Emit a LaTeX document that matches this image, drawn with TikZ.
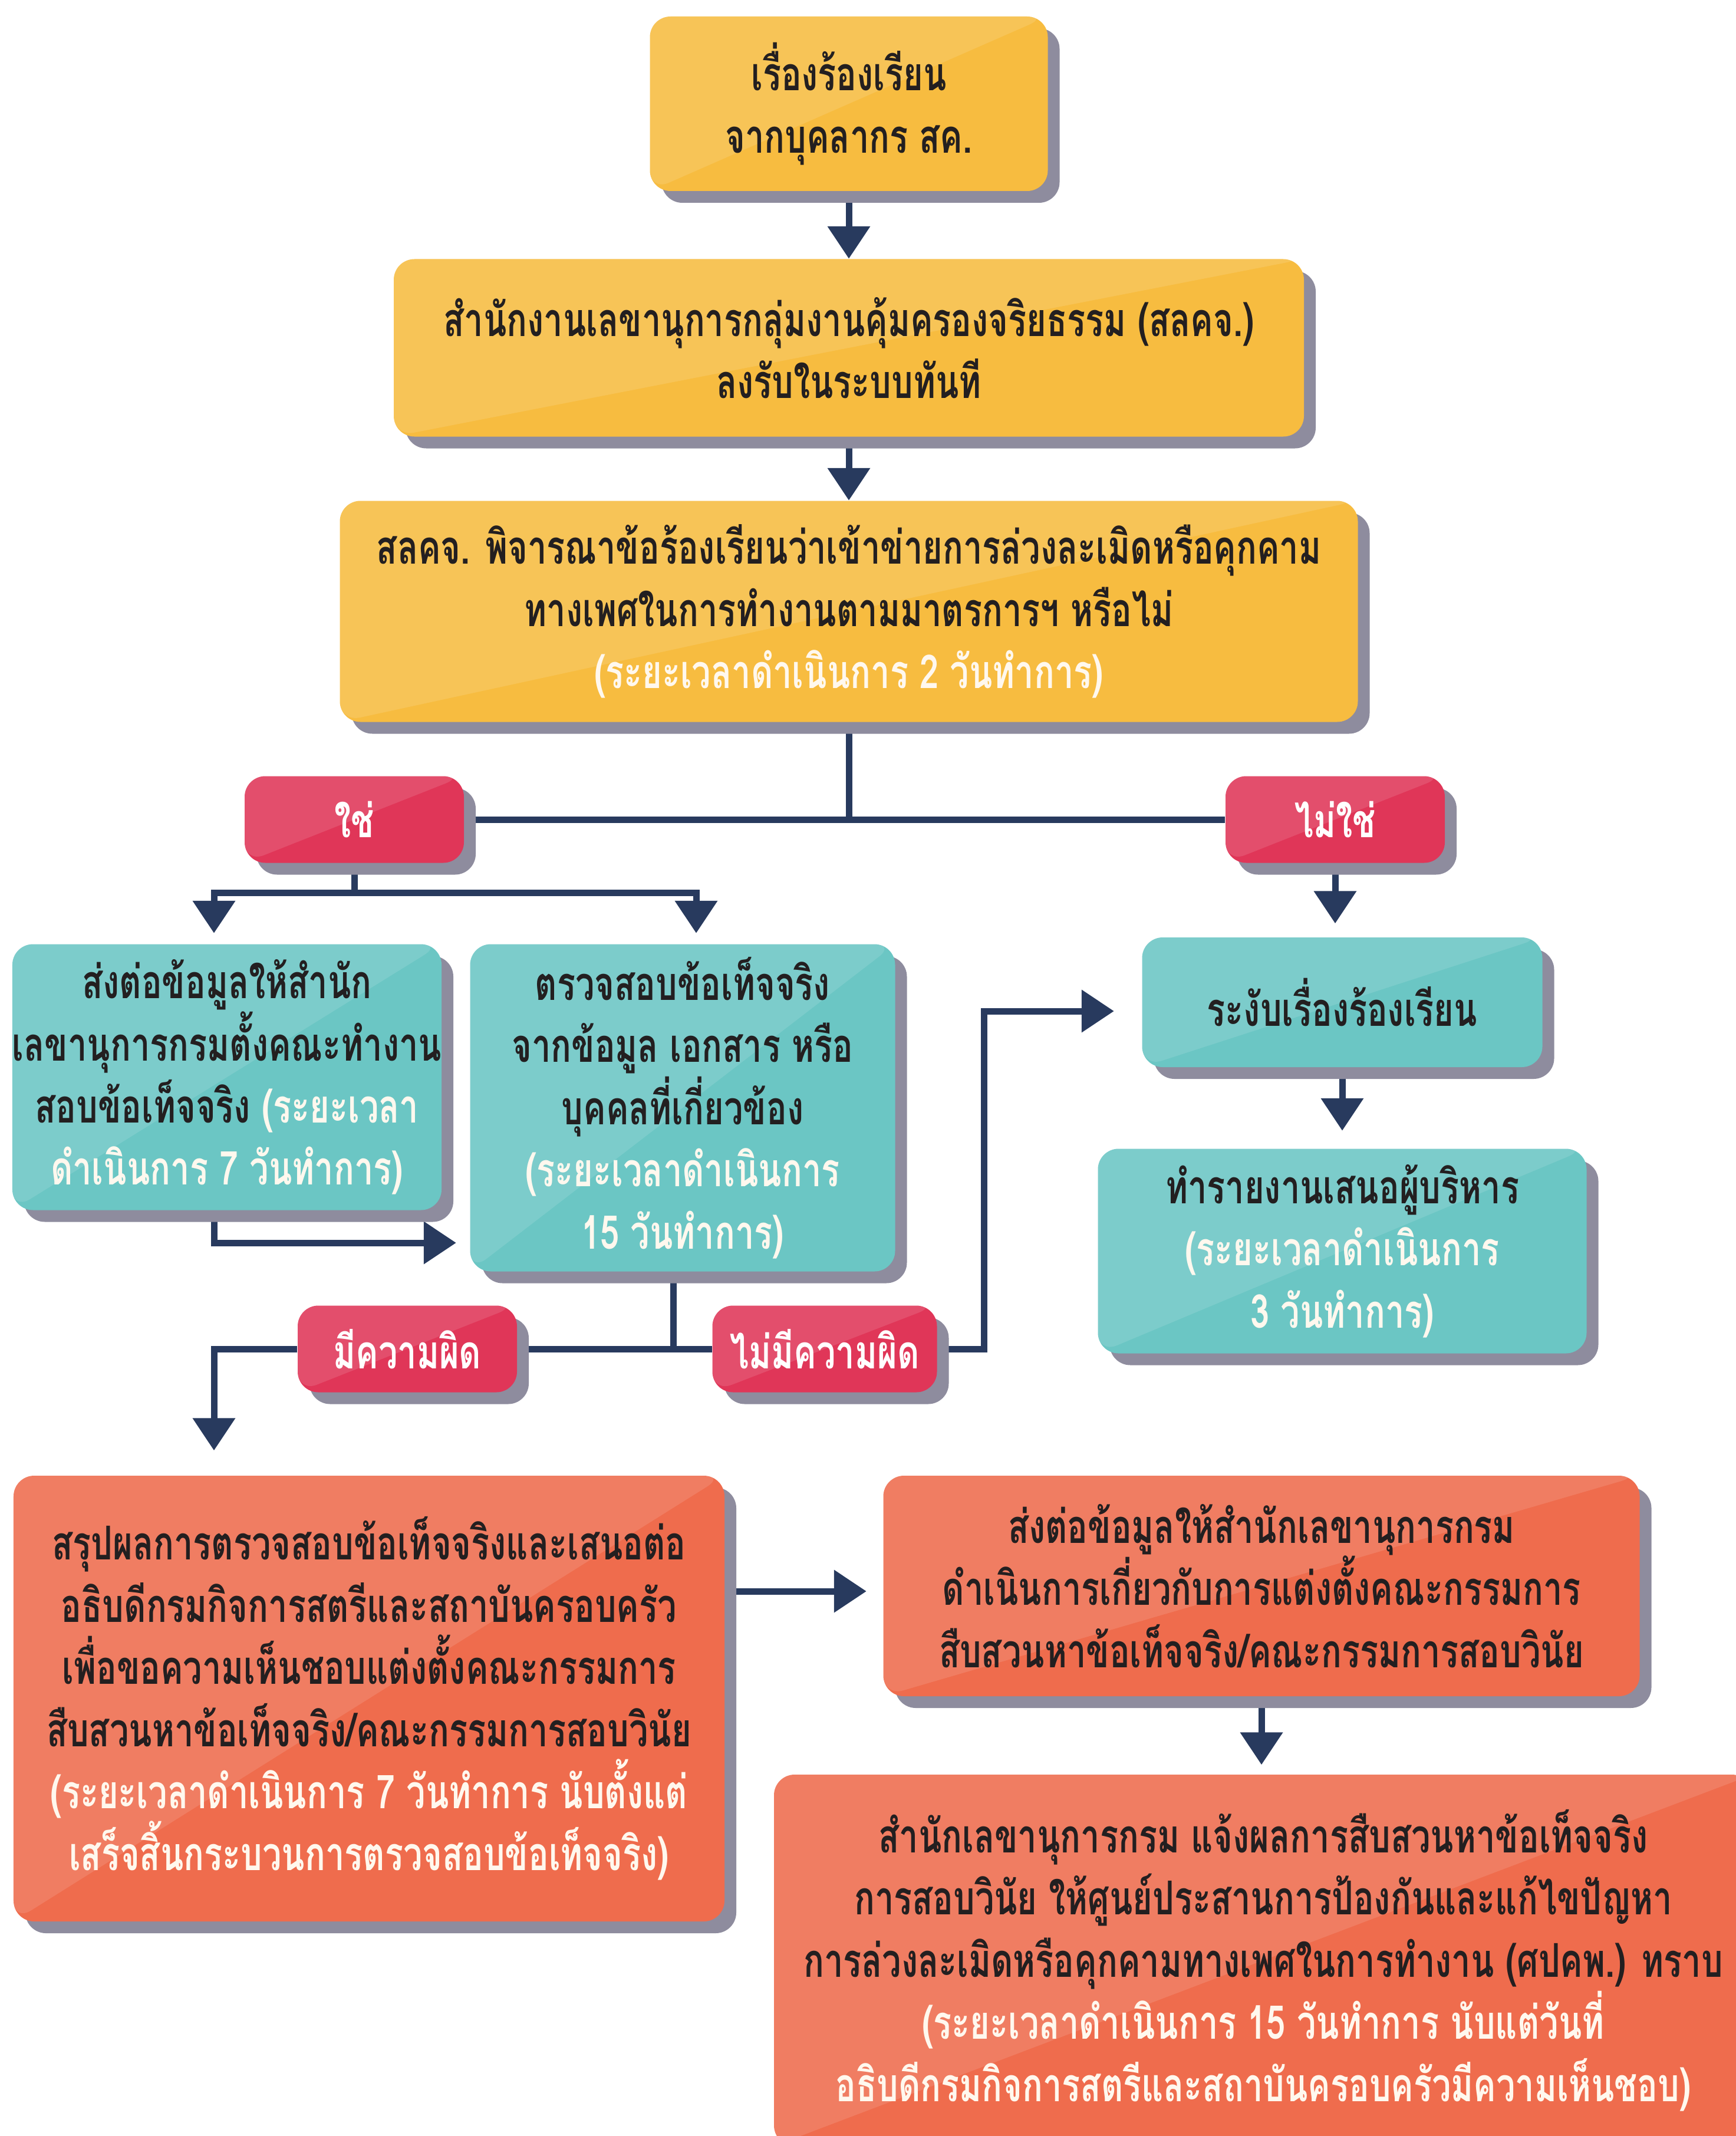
\documentclass[tikz,border=0pt]{standalone}
\usepackage{fontspec}
\setmainfont[Script=Thai, FakeStretch=0.73]{Loma}
\usepackage{tikz}
\usetikzlibrary{arrows.meta,shadows,backgrounds}

\definecolor{ylw}{HTML}{F7BC40}
\definecolor{rd}{HTML}{E03658}
\definecolor{tl}{HTML}{6BC6C4}
\definecolor{orng}{HTML}{EF6C4D}
\definecolor{navy}{HTML}{283A5E}
\definecolor{shade}{HTML}{8E8C9E}
\definecolor{txt}{HTML}{231F20}
\definecolor{tmtxt}{HTML}{FFF8EE}

\begin{document}
\begin{tikzpicture}[auto, node distance=4cm, >={Triangle[width=0.7cm,length=0.55cm]}]
\tikzstyle{box} = [rounded corners=0.35cm, align=center, inner sep=0pt, text=txt,
  font=\fontsize{22.5}{30}\selectfont\bfseries,
  drop shadow={shadow xshift=0.2cm, shadow yshift=-0.2cm, fill=shade, opacity=1},
  path picture={\fill[white, opacity=0.12] (path picture bounding box.north west) -- (path picture bounding box.north east) -- (path picture bounding box.south west) -- cycle;}]
\tikzstyle{ybox} = [box, fill=ylw]
\tikzstyle{rbox} = [box, fill=rd, text=white, minimum width=3.72cm, minimum height=1.47cm]
\tikzstyle{tbox} = [box, fill=tl]
\tikzstyle{obox} = [box, fill=orng]
\tikzstyle{link} = [draw=navy, line width=0.11cm]
\def\tm#1{{\color{tmtxt}#1}}

\useasboundingbox (0,0) rectangle (29.44,-36.23);

    % the main column
    \node [ybox, minimum width=6.75cm, minimum height=2.96cm] (y1) at (14.40,-1.76) {เรื่องร้องเรียน\\จากบุคลากร สค.};
    \node [ybox, below of=y1, node distance=4.14cm, minimum width=15.44cm, minimum height=3.01cm] (y2) {สำนักงานเลขานุการกลุ่มงานคุ้มครองจริยธรรม (สลคจ.)\\ลงรับในระบบทันที};
    \node [ybox, below of=y2, node distance=4.47cm, minimum width=17.27cm, minimum height=3.75cm] (y3) {สลคจ. พิจารณาข้อร้องเรียนว่าเข้าข่ายการล่วงละเมิดหรือคุกคาม\\ทางเพศในการทำงานตามมาตรการฯ หรือไม่\\\tm{(ระยะเวลาดำเนินการ 2 วันทำการ)}};

    \node [rbox] (yes) at (6.01,-13.90) {ใช่};
    \node [rbox] (no) at (22.65,-13.90) {ไม่ใช่};

    \node [tbox, minimum width=7.23cm, minimum height=4.51cm] (tL) at (3.85,-18.27) {ส่งต่อข้อมูลให้สำนัก\\เลขานุการกรมตั้งคณะทำงาน\\สอบข้อเท็จจริง \tm{(ระยะเวลา}\\\tm{ดำเนินการ 7 วันทำการ)}};
    \node [tbox, minimum width=7.21cm, minimum height=5.55cm] (tM) at (11.58,-18.79) {ตรวจสอบข้อเท็จจริง\\จากข้อมูล เอกสาร หรือ\\บุคคลที่เกี่ยวข้อง\\\tm{(ระยะเวลาดำเนินการ}\\\tm{15 วันทำการ)}};
    \node [tbox, minimum width=6.79cm, minimum height=2.20cm] (tR1) at (22.77,-17.00) {ระงับเรื่องร้องเรียน};
    \node [tbox, below of=tR1, node distance=4.22cm, minimum width=8.29cm, minimum height=3.47cm] (tR2) {ทำรายงานเสนอผู้บริหาร\\\tm{(ระยะเวลาดำเนินการ}\\\tm{3 วันทำการ)}};

    \node [rbox] (guilty) at (6.91,-22.88) {มีความผิด};
    \node [rbox, minimum width=3.81cm] (notguilty) at (13.99,-22.88) {ไม่มีความผิด};

    \node [obox, minimum width=12.06cm, minimum height=7.56cm] (oL) at (6.26,-28.81) {สรุปผลการตรวจสอบข้อเท็จจริงและเสนอต่อ\\อธิบดีกรมกิจการสตรีและสถาบันครอบครัว\\เพื่อขอความเห็นชอบแต่งตั้งคณะกรรมการ\\สืบสวนหาข้อเท็จจริง/คณะกรรมการสอบวินัย\\\tm{(ระยะเวลาดำเนินการ 7 วันทำการ นับตั้งแต่}\\\tm{เสร็จสิ้นกระบวนการตรวจสอบข้อเท็จจริง)}};
    \node [obox, minimum width=12.83cm, minimum height=3.74cm] (oR1) at (21.40,-26.90) {ส่งต่อข้อมูลให้สำนักเลขานุการกรม\\ดำเนินการเกี่ยวกับการแต่งตั้งคณะกรรมการ\\สืบสวนหาข้อเท็จจริง/คณะกรรมการสอบวินัย};
    \node [obox, minimum width=16.6cm, minimum height=6.3cm] (oR2) at (21.43,-33.25) {สำนักเลขานุการกรม แจ้งผลการสืบสวนหาข้อเท็จจริง\\การสอบวินัย ให้ศูนย์ประสานการป้องกันและแก้ไขปัญหา\\การล่วงละเมิดหรือคุกคามทางเพศในการทำงาน (ศปคพ.) ทราบ\\\tm{(ระยะเวลาดำเนินการ 15 วันทำการ นับแต่วันที่}\\\tm{อธิบดีกรมกิจการสตรีและสถาบันครอบครัวมีความเห็นชอบ)}};

    \coordinate (split) at (y3.south |- yes);
    \coordinate [below of=yes, node distance=1.24cm] (fork);
    \coordinate (merge) at (11.42,-22.88);
    \coordinate (bend) at (16.69,-22.88);

    % connectors go under the boxes
    \begin{pgfonlayer}{background}
    \fill [white] (0,0) rectangle (29.44,-36.23);
    \draw [link, ->] (y1) -- (y2);
    \draw [link, ->] (y2) -- (y3);
    \draw [link] (y3) -- (split);
    \draw [link] (yes) -- (no);
    \draw [link] (yes) -- (fork);
    \draw [link, ->, shorten >=0.18cm] (fork) -| ([xshift=-0.22cm]tL.north);
    \draw [link, ->, shorten >=0.18cm] (fork) -| ([xshift=0.23cm]tM.north);
    \draw [link, ->, shorten >=0.23cm] ([xshift=-0.22cm]tL.south) |- ([yshift=-2.29cm]tM.west);
    \draw [link, ->, shorten >=0.23cm] (no) -- (no |- tR1.north);
    \draw [link, ->, shorten >=0.3cm] (tR1) -- (tR1 |- tR2.north);
    \draw [link] (merge |- tM.south) -- (merge);
    \draw [link] (guilty) -- (notguilty);
    \draw [link, ->, shorten >=0.42cm] (guilty) -| ([xshift=-2.63cm]oL.north);
    \draw [link, ->, shorten >=0.47cm] (notguilty) -- (bend) |- ([yshift=-0.15cm]tR1.west);
    \draw [link, ->, shorten >=0.28cm] ([yshift=-0.09cm]oL.east |- oR1) -- ([yshift=-0.09cm]oR1.west);
    \draw [link, ->, shorten >=0.16cm] (oR1) -- (oR1 |- oR2.north);
    \end{pgfonlayer}

\end{tikzpicture}
\end{document}
